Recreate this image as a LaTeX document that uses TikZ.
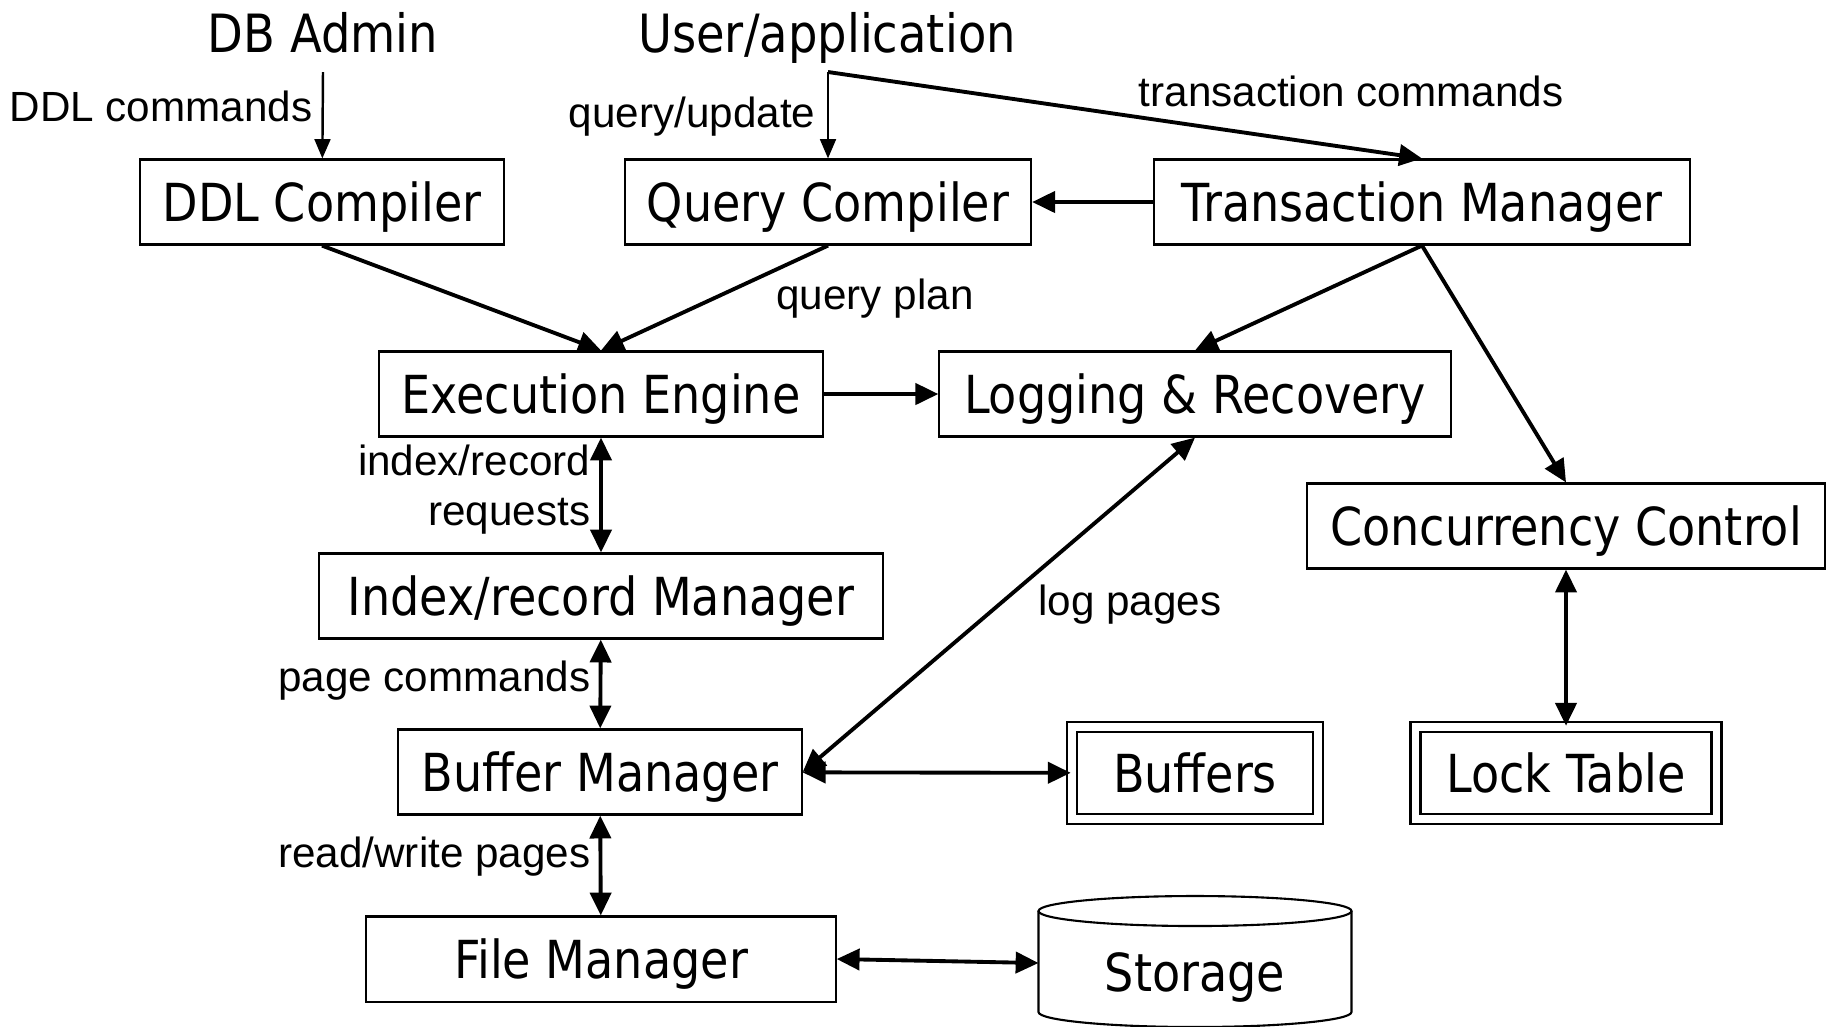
\documentclass[tikz,border=0pt]{standalone}
\usepackage{fontspec}
\setmainfont{DejaVu Sans}
\newfontfamily\boxfont[FakeStretch=0.88]{DejaVu Sans}
\newfontfamily\labelfont{Liberation Sans}
\usepackage{tikz}
\usetikzlibrary{arrows.meta,positioning}
\tikzstyle{arrow} = [line width=1.1pt,-{Triangle[length=6.5pt,width=6pt]}]
\tikzstyle{thinarrow} = [line width=0.7pt,-{Triangle[length=5.5pt,width=4.5pt]}]
\tikzstyle{biarrow} = [line width=1.1pt,{Triangle[length=6.5pt,width=6pt]}-{Triangle[length=6.5pt,width=6pt]}]
\tikzstyle{module} = [rectangle, draw, line width=0.6pt, minimum height=0.85cm, inner sep=0pt, text centered, text height=10.86pt, text depth=0pt, font=\boxfont\fontsize{14.9}{17}\selectfont]
\tikzstyle{store} = [rectangle, draw, line width=0.7pt, double, double distance=2.2pt, minimum height=0.92cm, inner sep=0pt, text centered, text height=10.86pt, text depth=0pt, font=\boxfont\fontsize{14.9}{17}\selectfont]
\tikzstyle{actor} = [inner sep=0pt, text height=10.9pt, text depth=0pt, font=\boxfont\fontsize{15}{17}\selectfont]
\tikzstyle{lbl} = [inner sep=0pt, font=\labelfont\fontsize{12}{14.2}\selectfont]

\begin{document}
\begin{tikzpicture}[x=0.01cm, y=-0.01cm]
\useasboundingbox (0,0) rectangle (1831,1026);
% users
\node (admin) [actor] at (323,33) {DB Admin};
\node (user) [actor] at (827,33) {User/application};
\coordinate (adminout) at (323,72);
\coordinate (userout) at (828,72);

% modules
\node (ddl) [module, minimum width=3.63cm] at (322,202) {DDL Compiler};
\node (qc) [module, minimum width=4.06cm] at (828,202) {Query Compiler};
\node (tm) [module, minimum width=5.35cm] at (1422,202) {Transaction Manager};
\node (exec) [module, minimum width=4.43cm] at (601,394) {Execution Engine};
\node (log) [module, minimum width=5.11cm] at (1195,394) {Logging \& Recovery};
\node (cc) [module, minimum width=5.18cm] at (1566,526) {Concurrency Control};
\node (irm) [module, minimum width=5.64cm] at (601,596) {Index/record Manager};
\node (bm) [module, minimum width=4.03cm] at (600,772) {Buffer Manager};
\node (fm) [module, minimum width=4.69cm] at (601,959) {File Manager};
\node (buf) [store, minimum width=2.46cm] at (1195,773) {Buffers};
\node (lock) [store, minimum width=3.01cm] at (1566,773) {Lock Table};

% storage
\node (disk) [minimum width=3.13cm, minimum height=1.0cm, inner sep=0pt, text height=10.86pt, text depth=0pt, font=\boxfont\fontsize{14.9}{17}\selectfont] at (1195,972) {Storage};
\draw[line width=0.6pt] (1195,911) ellipse (156.5 and 15);
\draw[line width=0.6pt] (1038.5,911) -- (1038.5,1012) arc (180:0:156.5 and 15) -- (1351.5,911);

% connectors
\draw[thinarrow] (adminout) -- (ddl);
\draw[thinarrow] (userout) -- (qc);
\draw[arrow] (userout) -- (tm.north);
\draw[arrow] (tm) -- (qc);
\draw[arrow] (ddl.south) -- (exec.north);
\draw[arrow] (qc.south) -- (exec.north);
\draw[arrow] (tm.south) -- (log.north);
\draw[arrow] (tm.south) -- (cc.north);
\draw[arrow] (exec) -- (log);
\draw[biarrow] (exec) -- (irm);
\draw[biarrow] (irm) -- (bm);
\draw[biarrow] (bm) -- (fm);
\draw[biarrow] (bm) -- (buf);
\draw[biarrow] (bm.east) -- (log.south);
\draw[biarrow] (cc) -- (lock);
\draw[biarrow] (fm.east) -- (1038.5,963);

% labels
\node (ddlcmd) [lbl, anchor=east] at (313,106) {DDL commands};
\node (qupd) [lbl, anchor=east] at (816,117) {query/update};
\node (txcmd) [lbl] at (1351,91) {transaction commands};
\node (qplan) [lbl] at (875,299) {query plan};
\node (irreq) [lbl, anchor=east, align=right] at (591,490) {index/record\\requests};
\node (pgcmd) [lbl, anchor=east] at (591,681) {page commands};
\node (rwpg) [lbl, anchor=east] at (591,857) {read/write pages};
\node (logpg) [lbl] at (1130,605) {log pages};
\end{tikzpicture}
\end{document}
